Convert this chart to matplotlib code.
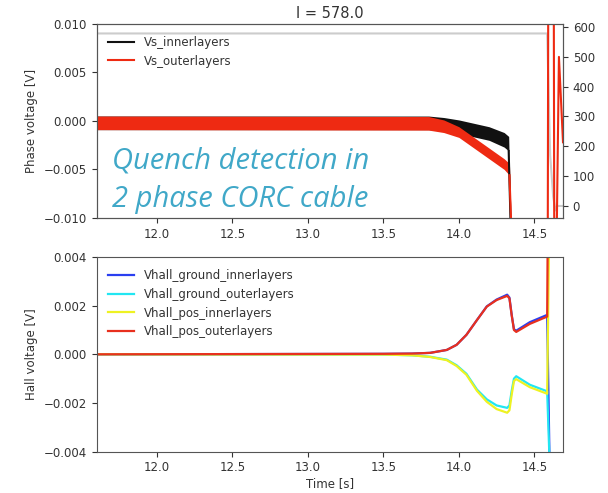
import numpy as np
import matplotlib
matplotlib.use("Agg")
from matplotlib import pyplot as plt
from matplotlib.lines import Line2D

# phase voltages, envelope of the ripple band [mV]
t_vs_in = [11.6, 13.8, 13.9, 14.0, 14.1, 14.2, 14.3, 14.33, 14.345]
vs_in_hi = [0.5, 0.5, 0.35, 0.1, -0.25, -0.6, -1.2, -1.6, -12]
vs_in_lo = [-0.9, -0.9, -1.05, -1.3, -1.65, -2.0, -2.7, -3.1, -12]

t_vs_out = [11.6, 13.8, 13.9, 14.0, 14.1, 14.2, 14.3, 14.335, 14.35]
vs_out_hi = [0.5, 0.45, 0.1, -0.6, -1.7, -2.8, -3.9, -4.4, -12]
vs_out_lo = [-0.9, -0.95, -1.2, -1.7, -2.8, -3.9, -5.0, -5.6, -12]

# outer layers after the quench [mV]
t_vs_out_tail = [14.35, 14.589, 14.592, 14.629, 14.632, 14.648, 14.663, 14.69]
vs_out_tail = [-12, -12, 12, 12, -12, -12, 6.6, -2.2]

# transport current [A]
t_cur = [11.6, 14.585, 14.605, 14.625, 14.64, 14.65, 14.69]
current = [578, 578, 170, 30, -15, 0, 0]

# hall probe voltages [mV]
t_hall = [11.6, 13.5, 13.69, 13.81, 13.92, 13.985, 14.05, 14.12, 14.185,
          14.25, 14.32, 14.335, 14.35, 14.365, 14.38, 14.47, 14.585]
hall_gnd_in = [0, 0.02, 0.03, 0.06, 0.18, 0.39, 0.8, 1.41, 1.97,
               2.25, 2.45, 2.33, 1.62, 1.03, 0.97, 1.32, 1.62]
hall_gnd_out = [0, -0.01, -0.04, -0.1, -0.22, -0.45, -0.8, -1.45, -1.85,
                -2.1, -2.2, -2.1, -1.5, -1.0, -0.9, -1.25, -1.52]
hall_pos_in = [0, -0.01, -0.04, -0.11, -0.24, -0.48, -0.84, -1.5, -1.95,
               -2.25, -2.4, -2.3, -1.65, -1.1, -1.02, -1.35, -1.62]
hall_pos_out = [0, 0.02, 0.03, 0.06, 0.18, 0.39, 0.8, 1.41, 1.96,
                2.23, 2.4, 2.3, 1.6, 1.0, 0.92, 1.25, 1.55]
# where each hall trace leaves the plot at the end, and the value it goes to
t_hall_end = {'gnd_in': 14.605, 'gnd_out': 14.61, 'pos_in': 14.6, 'pos_out': 14.59}
hall_end = {'gnd_in': -6, 'gnd_out': -6, 'pos_in': 6, 'pos_out': 6}

x_ticks = [12.0, 12.5, 13.0, 13.5, 14.0, 14.5]

c_black = '#111111'
c_red = '#ee2a12'
c_text = '#333333'
c_spine = '#555555'

plt.rcParams['font.size'] = 8.5
plt.rcParams['text.color'] = c_text
plt.rcParams['axes.labelcolor'] = c_text
plt.rcParams['xtick.color'] = c_text
plt.rcParams['ytick.color'] = c_text
plt.rcParams['axes.edgecolor'] = c_spine
plt.rcParams['axes.unicode_minus'] = True

fig = plt.figure(figsize=(6.08, 4.93), dpi=100)
ax1 = fig.add_axes([0.159, 0.558, 0.767, 0.3935])
ax2 = fig.add_axes([0.159, 0.0838, 0.767, 0.395])

mv = lambda v: np.array(v) * 1e-3

# current on the right axis, kept behind the voltages
ax1r = ax1.twinx()
ax1r.plot(t_cur, current, color='#cccccc', lw=1.5)
ax1r.set_ylim(-40, 610)
ax1r.set_yticks(range(0, 601, 100))
ax1.set_zorder(ax1r.get_zorder() + 1)
ax1.patch.set_visible(False)

# ripple bands, plus the steep drop at the quench
ax1.fill_between(t_vs_in, mv(vs_in_lo), mv(vs_in_hi), color=c_black, lw=0)
ax1.plot(t_vs_in[-2:], mv(vs_in_lo[-2:]), color=c_black, lw=1.5)
ax1.fill_between(t_vs_out, mv(vs_out_lo), mv(vs_out_hi), color=c_red, lw=0)
ax1.plot(t_vs_out[-2:], mv(vs_out_lo[-2:]), color=c_red, lw=1.5)
ax1.plot(t_vs_out_tail, mv(vs_out_tail), color=c_red, lw=1.5)
ax1.set_xlim(11.6, 14.69)
ax1.set_ylim(-0.010, 0.010)
ax1.set_yticks([-0.010, -0.005, 0.0, 0.005, 0.010])
ax1.set_xticks(x_ticks)
ax1.set_ylabel('Phase voltage [V]')
ax1.set_title('I = 578.0', fontsize=10.5, color=c_text, pad=4)
handles = [Line2D([], [], color=c_black, lw=1.5), Line2D([], [], color=c_red, lw=1.5)]
ax1.legend(handles, ['Vs_innerlayers', 'Vs_outerlayers'], loc='upper left',
           frameon=False, fontsize=8.5, borderaxespad=0.6, handlelength=2.2)

ax1.text(0.033, 0.295, 'Quench detection in', transform=ax1.transAxes,
         family=['Open Sans', 'DejaVu Sans'], style='italic',
         fontsize=21, color='#40a8c8', va='center', ha='left')
ax1.text(0.033, 0.095, '2 phase CORC cable', transform=ax1.transAxes,
         family=['Open Sans', 'DejaVu Sans'], style='italic',
         fontsize=21, color='#40a8c8', va='center', ha='left')

hall = [('gnd_in', hall_gnd_in, '#2a3ff0', 'Vhall_ground_innerlayers'),
        ('gnd_out', hall_gnd_out, '#22e6f2', 'Vhall_ground_outerlayers'),
        ('pos_in', hall_pos_in, '#eef222', 'Vhall_pos_innerlayers'),
        ('pos_out', hall_pos_out, '#e8301e', 'Vhall_pos_outerlayers')]
for key, vals, col, lab in hall:
    ax2.plot(t_hall + [t_hall_end[key]], mv(vals + [hall_end[key]]),
             color=col, lw=1.6, label=lab)
ax2.set_xlim(11.6, 14.69)
ax2.set_ylim(-0.004, 0.004)
ax2.set_yticks([-0.004, -0.002, 0.0, 0.002, 0.004])
ax2.set_xticks(x_ticks)
ax2.set_ylabel('Hall voltage [V]')
ax2.set_xlabel('Time [s]', labelpad=2)
ax2.legend(loc='upper left', frameon=False, fontsize=8.5, borderaxespad=0.6,
           handlelength=2.2)

fig.savefig('out.png', dpi=100)
